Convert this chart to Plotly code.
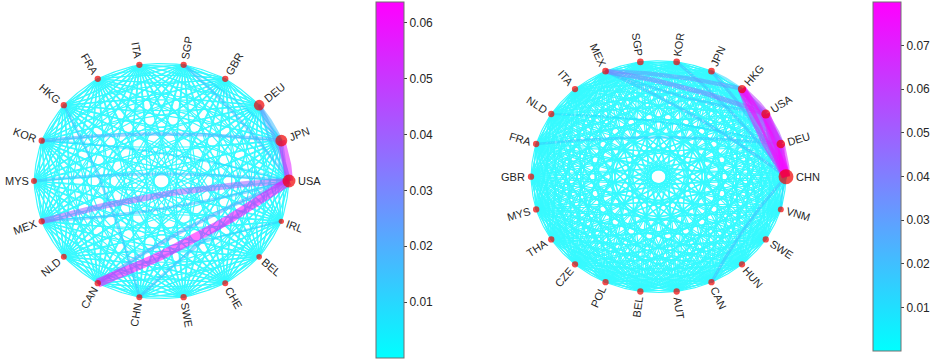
import numpy as np
import plotly.graph_objects as go
from plotly.colors import sample_colorscale

W, H = 931, 360

# ---------------- data ----------------
# nodes listed counter-clockwise starting at angle 0 (east)
left_nodes = ["USA", "JPN", "DEU", "GBR", "SGP", "ITA", "FRA", "HKG", "KOR",
              "MYS", "MEX", "NLD", "CAN", "CHN", "SWE", "CHE", "BEL", "IRL"]
left_strength = [0.30, 0.27, 0.23, 0.10, 0.10, 0.10, 0.10, 0.10, 0.10,
                 0.09, 0.10, 0.09, 0.10, 0.09, 0.10, 0.09, 0.08, 0.07]
left_src = ["USA", "CAN", "MEX", "USA", "JPN", "USA", "DEU", "USA", "DEU", "JPN",
            "KOR", "KOR", "SGP", "SGP", "HKG", "CHN", "CAN", "MYS"]
left_tgt = ["CAN", "USA", "USA", "MEX", "USA", "JPN", "USA", "DEU", "JPN", "DEU",
            "JPN", "USA", "USA", "JPN", "CHN", "USA", "IRL", "USA"]
left_w = [0.0637, 0.022, 0.040, 0.016, 0.056, 0.024, 0.024, 0.014, 0.016, 0.010,
          0.020, 0.009, 0.016, 0.009, 0.014, 0.016, 0.011, 0.015]
left_base_w = 0.0015
left_cmax = 0.0637
left_ticks = [0.01, 0.02, 0.03, 0.04, 0.05, 0.06]

right_nodes = ["CHN", "DEU", "USA", "HKG", "JPN", "KOR", "SGP", "MEX", "ITA", "NLD", "FRA",
               "GBR", "MYS", "THA", "CZE", "POL", "BEL", "AUT", "CAN", "HUN", "SWE", "VNM"]
right_strength = [0.36, 0.17, 0.18, 0.16, 0.11, 0.11, 0.11, 0.11, 0.10, 0.10, 0.10,
                  0.10, 0.10, 0.10, 0.10, 0.10, 0.10, 0.10, 0.10, 0.10, 0.10, 0.09]
right_src = ["HKG", "CHN", "USA", "CHN", "DEU", "CHN", "HKG", "USA", "USA", "DEU", "HKG",
             "MEX", "USA", "MEX", "MEX", "JPN", "KOR", "CAN", "FRA", "NLD", "VNM", "JPN"]
right_tgt = ["CHN", "HKG", "CHN", "USA", "CHN", "DEU", "USA", "HKG", "DEU", "USA", "DEU",
             "USA", "MEX", "CHN", "HKG", "CHN", "CHN", "CHN", "DEU", "DEU", "CHN", "HKG"]
right_w = [0.080, 0.068, 0.074, 0.060, 0.070, 0.058, 0.060, 0.050, 0.055, 0.052, 0.050,
           0.040, 0.018, 0.020, 0.032, 0.022, 0.020, 0.020, 0.016, 0.010, 0.012, 0.012]
right_base_w = 0.0015
right_cmax = 0.080
right_ticks = [0.01, 0.02, 0.03, 0.04, 0.05, 0.06, 0.07]

# ---------------- styling / geometry ----------------
COOL = [[0, "rgb(0,255,255)"], [1, "rgb(255,0,255)"]]
FONT = "Liberation Sans, Arial, sans-serif"
TXT = "#262626"

panels = [
    dict(nodes=left_nodes, strength=left_strength, src=left_src, tgt=left_tgt, w=left_w,
         base=left_base_w, cmax=left_cmax, ticks=left_ticks,
         dom=(0, 330), cx=161.5, cy=181.0, rx=127.5, ry=118.0,
         cb_x=376, cb_top=2, cb_bot=358, xa="x", ya="y"),
    dict(nodes=right_nodes, strength=right_strength, src=right_src, tgt=right_tgt, w=right_w,
         base=right_base_w, cmax=right_cmax, ticks=right_ticks,
         dom=(480, 840), cx=658.5, cy=176.7, rx=127.5, ry=116.0,
         cb_x=873, cb_top=2, cb_bot=351, xa="x2", ya="y2"),
]

ARIAL = {'A': 667, 'B': 667, 'C': 722, 'D': 722, 'E': 667, 'F': 611, 'G': 778, 'H': 722,
         'I': 278, 'J': 500, 'K': 667, 'L': 556, 'M': 833, 'N': 722, 'O': 778, 'P': 667,
         'Q': 778, 'R': 722, 'S': 667, 'T': 611, 'U': 722, 'V': 667, 'W': 944, 'X': 667,
         'Y': 667, 'Z': 611}


def text_w(s, size=11):
    return sum(ARIAL.get(c, 600) for c in s) * size / 1000.0


def bezier(p0, p2, curv=0.06, n=26):
    d = p2 - p0
    L = np.hypot(*d)
    nrm = np.array([-d[1], d[0]]) / L
    c = (p0 + p2) / 2 + curv * L * nrm
    t = np.linspace(0, 1, n)[:, None]
    return (1 - t) ** 2 * p0 + 2 * (1 - t) * t * c + t ** 2 * p2


fig = go.Figure()
annotations = []

for k, P in enumerate(panels):
    nodes = P["nodes"]
    n = len(nodes)
    ang = np.arange(n) * 2 * np.pi / n
    pos = {nm: np.array([np.cos(a), np.sin(a)]) for nm, a in zip(nodes, ang)}
    cmax = P["cmax"]
    strong = {(s, t): w for s, t, w in zip(P["src"], P["tgt"], P["w"])}

    # background edges (all other ordered pairs)
    bx, by = [], []
    for s in nodes:
        for t in nodes:
            if s == t or (s, t) in strong:
                continue
            pts = bezier(pos[s], pos[t])
            bx += list(pts[:, 0]) + [None]
            by += list(pts[:, 1]) + [None]
    bcol = sample_colorscale(COOL, [P["base"] / cmax])[0]
    fig.add_trace(go.Scatter(x=bx, y=by, mode="lines", xaxis=P["xa"], yaxis=P["ya"],
                             line=dict(color=bcol, width=1.0 + 7 * P["base"] / cmax),
                             opacity=0.8, hoverinfo="skip", showlegend=False))

    # strong edges, lightest first
    for (s, t), w in sorted(strong.items(), key=lambda kv: kv[1]):
        pts = bezier(pos[s], pos[t])
        col = sample_colorscale(COOL, [w / cmax])[0]
        fig.add_trace(go.Scatter(x=pts[:, 0], y=pts[:, 1], mode="lines",
                                 xaxis=P["xa"], yaxis=P["ya"],
                                 line=dict(color=col, width=1.0 + 8 * w / cmax),
                                 opacity=0.55, hoverinfo="skip", showlegend=False))

    # nodes
    sizes = [3 + 33 * s for s in P["strength"]]
    fig.add_trace(go.Scatter(x=[pos[nm][0] for nm in nodes], y=[pos[nm][1] for nm in nodes],
                             mode="markers", xaxis=P["xa"], yaxis=P["ya"],
                             marker=dict(color="#f00000", size=sizes, line=dict(width=0)),
                             hoverinfo="skip", showlegend=False))

    # labels (radial)
    for nm, a, sz in zip(nodes, ang, sizes):
        deg = np.degrees(a)
        rot = deg - 180 if 90 < deg < 270 else (deg if deg <= 90 else deg - 360)
        d = sz / 2 + 2.5 + text_w(nm) / 2
        annotations.append(dict(x=pos[nm][0], y=pos[nm][1], xref=P["xa"], yref=P["ya"],
                                text=nm, showarrow=False, textangle=-rot,
                                xanchor="center", yanchor="middle",
                                xshift=d * np.cos(a), yshift=d * np.sin(a),
                                font=dict(family=FONT, size=11, color=TXT)))

    # colorbar via invisible marker
    cb_len = P["cb_bot"] - P["cb_top"]
    cb_yc = 1 - (P["cb_top"] + P["cb_bot"]) / 2 / H
    fig.add_trace(go.Scatter(x=[0], y=[0], mode="markers", xaxis=P["xa"], yaxis=P["ya"],
                             marker=dict(size=1, opacity=0, color=[0], cmin=0, cmax=cmax,
                                         colorscale=COOL, showscale=True,
                                         colorbar=dict(x=P["cb_x"] / W, xanchor="left",
                                                       y=cb_yc, yanchor="middle",
                                                       len=cb_len, lenmode="pixels",
                                                       thickness=28, thicknessmode="pixels",
                                                       xpad=0, ypad=0,
                                                       outlinecolor="#707070", outlinewidth=1,
                                                       tickvals=P["ticks"],
                                                       ticktext=[f"{v:.2f}" for v in P["ticks"]],
                                                       ticks="outside", ticklen=3,
                                                       tickcolor="#404040",
                                                       tickfont=dict(family=FONT, size=12,
                                                                     color=TXT))),
                             hoverinfo="skip", showlegend=False))


def axis_ranges(P):
    x0, x1 = P["dom"]
    xr = [(x0 - P["cx"]) / P["rx"], (x1 - P["cx"]) / P["rx"]]
    yr = [(P["cy"] - H) / P["ry"], P["cy"] / P["ry"]]
    return xr, yr


xr1, yr1 = axis_ranges(panels[0])
xr2, yr2 = axis_ranges(panels[1])
hid = dict(visible=False, showgrid=False, zeroline=False, fixedrange=True)
fig.update_layout(
    width=W, height=H, margin=dict(l=0, r=0, t=0, b=0),
    paper_bgcolor="white", plot_bgcolor="white",
    xaxis=dict(domain=[panels[0]["dom"][0] / W, panels[0]["dom"][1] / W], range=xr1, **hid),
    yaxis=dict(domain=[0, 1], range=yr1, **hid),
    xaxis2=dict(domain=[panels[1]["dom"][0] / W, panels[1]["dom"][1] / W], range=xr2, **hid),
    yaxis2=dict(domain=[0, 1], range=yr2, **hid),
    annotations=annotations,
    showlegend=False,
)
fig.write_html("out.html")
